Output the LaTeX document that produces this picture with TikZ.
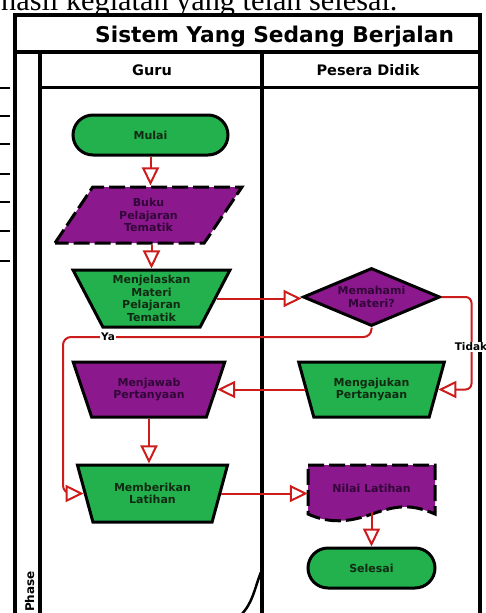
\documentclass[tikz,border=0pt]{standalone}
\usepackage{fontspec}
\setmainfont{DejaVu Sans}
\newfontfamily\captionserif{Liberation Serif}
\usetikzlibrary{shapes.geometric, arrows.meta}

\definecolor{flowgreen}{RGB}{34,177,76}
\definecolor{flowpurple}{RGB}{140,24,142}
\definecolor{flowred}{RGB}{205,28,28}
\definecolor{greentext}{RGB}{18,42,20}
\definecolor{purpletext}{RGB}{50,6,56}

\begin{document}
\begin{tikzpicture}[x=1pt, y=-1pt,
  frame/.style={line width=4pt, black},
  lbl/.style={font=\bfseries\fontsize{11}{12.5}\selectfont, align=center},
  greenbox/.style={fill=flowgreen, text=greentext},
  purplebox/.style={fill=flowpurple, text=purpletext},
  terminal/.style={lbl, greenbox, draw=black, line width=3pt, rounded corners=20pt,
    minimum height=40pt, inner sep=0pt},
  manual/.style={lbl, trapezium, trapezium stretches=true, draw=black, line width=3pt,
    inner sep=1pt},
  datain/.style={lbl, purplebox, trapezium, trapezium left angle=60, trapezium right angle=120,
    trapezium stretches=true, draw=black, line width=3pt, dash pattern=on 16pt off 5pt,
    inner sep=1pt},
  decision/.style={lbl, purplebox, diamond, aspect=2.36, draw=black, line width=3pt,
    inner sep=0pt, minimum width=137pt, minimum height=58pt},
  flow/.style={draw=flowred, line width=2pt,
    -{Triangle[length=18pt, width=17pt, fill=white]}},
  branch/.style={font=\bfseries\fontsize{10.5}{12}\selectfont, fill=white, inner sep=1pt}
]
\useasboundingbox (0,0) rectangle (485,613);
\fill[white] (0,0) rectangle (485,613);
\clip (0,0) rectangle (485,613);

% line of running text above the chart
\node[font=\captionserif\fontsize{30.3}{32}\selectfont, anchor=base west, inner sep=0pt]
  (caption) at (1,10) {hasil kegiatan yang telah selesai.};

% ends of table rules at the left margin
\foreach \yy in {88,116,144,174,202,231,261}
  \draw[line width=2.5pt] (0,\yy) -- (10,\yy);

% swimlane frame
\draw[frame] (15,15) rectangle (480,640);
\draw[frame] (15,52) -- (480,52);
\draw[frame] (40,52) -- (40,640);
\draw[frame] (262,52) -- (262,640);
\draw[line width=3pt] (40,87) -- (480,87);
\draw[line width=2.5pt] (261,572) .. controls (254,590) and (253,603) .. (240,616);

\node[font=\bfseries\fontsize{21.7}{24}\selectfont, anchor=base west, inner sep=0pt] (title)
  at (95,42) {Sistem Yang Sedang Berjalan};
\node[font=\bfseries\fontsize{14.5}{16}\selectfont, anchor=base] (guru) at (152,75) {Guru};
\node[font=\bfseries\fontsize{14.5}{16}\selectfont, anchor=base] (siswa) at (368,75) {Pesera Didik};
\node[font=\bfseries\fontsize{12}{14}\selectfont, rotate=90, anchor=base west, inner sep=0pt]
  (phase) at (34,612) {Phase};

% flow nodes
\node[terminal, minimum width=155pt] (mulai) at (150.5,135) {Mulai};
\node[datain, minimum width=187pt, minimum height=56pt] (buku) at (148.5,215)
  {Buku\\Pelajaran\\Tematik};
\node[manual, greenbox, trapezium left angle=117, trapezium right angle=117,
  minimum width=157pt, minimum height=57pt] (jelas) at (151.5,298.5)
  {Menjelaskan\\Materi\\Pelajaran\\Tematik};
\node[decision] (paham) at (371.5,297) {Memahami\\Materi?};
\node[manual, greenbox, trapezium left angle=112, trapezium right angle=112,
  minimum width=147pt, minimum height=55pt] (ajukan) at (371.5,389.5)
  {Mengajukan\\Pertanyaan};
\node[manual, purplebox, trapezium left angle=115, trapezium right angle=115,
  minimum width=152pt, minimum height=55pt] (jawab) at (149,389.5)
  {Menjawab\\Pertanyaan};
\node[manual, greenbox, trapezium left angle=114, trapezium right angle=114,
  minimum width=151pt, minimum height=57pt] (beri) at (152.5,493.5)
  {Memberikan\\Latihan};

% document shape with a wavy lower edge
\draw[fill=flowpurple, line width=3pt, dash pattern=on 16pt off 5pt]
  (308,465) -- (435,465) -- (435,514)
  .. controls (410,503) and (395,506) .. (372,514)
  .. controls (350,522) and (330,524) .. (308,514) -- cycle;
\node[lbl, text=purpletext, minimum width=127pt, minimum height=48pt, inner sep=0pt]
  (nilai) at (371.5,488) {Nilai Latihan};
\node[terminal, minimum width=127pt] (selesai) at (371.5,568) {Selesai};

% connectors
\draw[flow] (mulai.south) -- (mulai.south |- buku.north);
\draw[flow] (jelas.north |- buku.south) -- (jelas.north);
\draw[flow] (jelas.east) -- (jelas.east -| paham.west);
\draw[flow, rounded corners=8pt] (paham.south) |- (63,337) |- (beri.west);
\draw[flow, rounded corners=6pt] (paham.east) -- ++(30,0) |- (ajukan.east);
\draw[flow] (ajukan.west) -- (ajukan.west -| jawab.east);
\draw[flow] (jawab.south) -- (jawab.south |- beri.north);
\draw[flow] (beri.east) -- (beri.east -| nilai.west);
\draw[flow] (nilai.south) -- (selesai.north);

\node[branch] (ya) at (108,337) {Ya};
\node[branch] (tidak) at (471,347) {Tidak};
\end{tikzpicture}
\end{document}
